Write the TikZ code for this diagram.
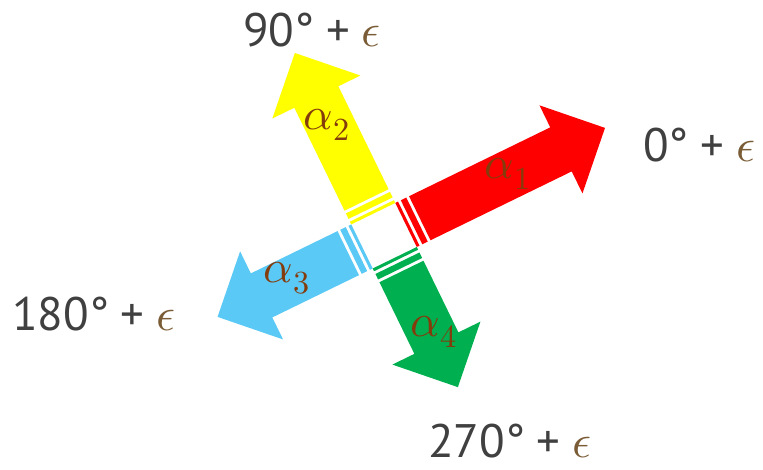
\documentclass[tikz,border=0pt]{standalone}
\usepackage{fontspec}
\usepackage{unicode-math}
\setmainfont{PT Sans}
\setmathfont{Latin Modern Math}
\definecolor{txtgray}{HTML}{404040}
\definecolor{epsbrown}{HTML}{7A5C36}
\definecolor{alphabrown}{HTML}{843C0C}
\definecolor{arrred}{HTML}{FF0000}
\definecolor{arryellow}{HTML}{FFFF00}
\definecolor{arrcyan}{HTML}{5BC9F5}
\definecolor{arrgreen}{HTML}{00B050}
\newcommand{\stripedarrow}[3]{%
  \begin{scope}[shift={(C)}, rotate=#1]
    \fill[#3] (24.5,-24.5) rectangle (27.56,24.5);
    \fill[#3] (30.63,-24.5) rectangle (36.75,24.5);
    \fill[#3] (39.8,-24.5) -- ({24.5+#2-49},-24.5) -- ({24.5+#2-49},-49)
      -- ({24.5+#2},0) -- ({24.5+#2-49},49) -- ({24.5+#2-49},24.5)
      -- (39.8,24.5) -- cycle;
  \end{scope}}
\newcommand{\epsw}{\hspace{0.25em}\textcolor{epsbrown}{$\epsilon$}}
\tikzset{
  anglelabel/.style={text=txtgray, font=\fontsize{47}{50}\selectfont, inner sep=0pt, text depth=0pt, anchor=base west},
  alphalabel/.style={text=alphabrown, font=\fontsize{46}{50}\selectfont, inner sep=0pt}
}
\begin{document}
\begin{tikzpicture}[x=1pt,y=1pt]
  \useasboundingbox (0,0) rectangle (763,469);
  \coordinate (C) at (384,233.3);
  \stripedarrow{26}{221.4}{arrred}
  \stripedarrow{116}{178.8}{arryellow}
  \stripedarrow{206}{160.7}{arrcyan}
  \stripedarrow{296}{144}{arrgreen}
  \node[alphalabel] (a1) at (508,295) {$\alpha_{1}$};
  \node[alphalabel] (a2) at (327,344) {$\alpha_{2}$};
  \node[alphalabel] (a3) at (287,191) {$\alpha_{3}$};
  \node[alphalabel] (a4) at (434,137) {$\alpha_{4}$};
  \node[anglelabel] (t90) at (243,422) {90°\hspace{0.25em}+\epsw};
  \node[anglelabel] (t0) at (643,307) {0°\hspace{0.25em}+\epsw};
  \node[anglelabel] (t180) at (12,139) {180°\hspace{0.25em}+\epsw};
  \node[anglelabel] (t270) at (428,12) {270°\hspace{0.25em}+\epsw};
\end{tikzpicture}
\end{document}
